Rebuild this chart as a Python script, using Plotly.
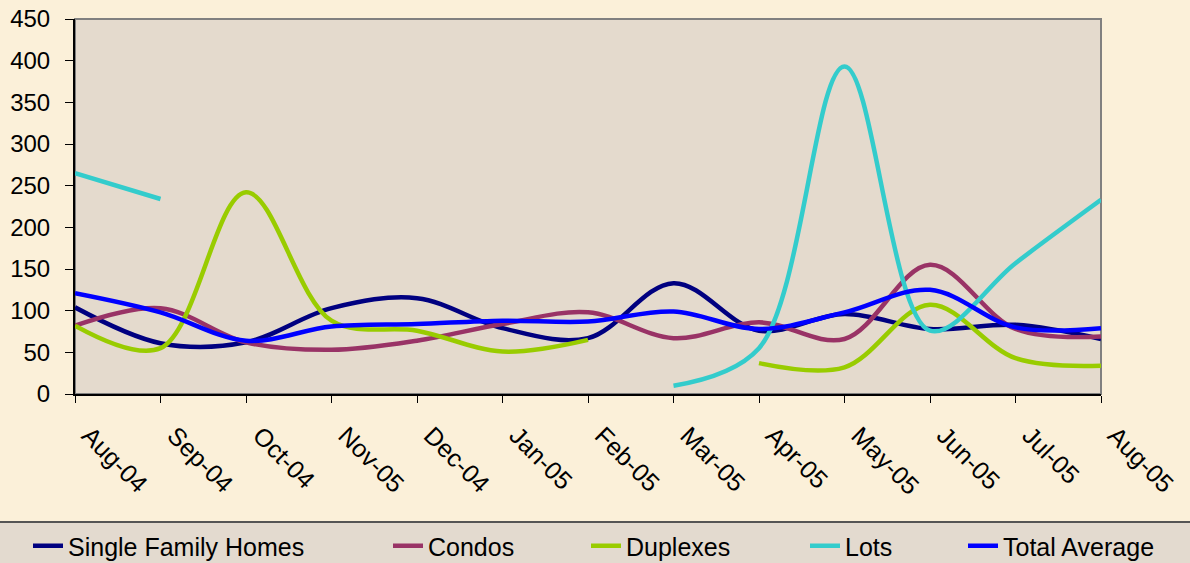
import plotly.graph_objects as go

months = ["Aug-04", "Sep-04", "Oct-04", "Nov-05", "Dec-04", "Jan-05", "Feb-05",
          "Mar-05", "Apr-05", "May-05", "Jun-05", "Jul-05", "Aug-05"]

single_family = [104, 61, 62, 103, 115, 79, 67, 133, 76, 96, 78, 83, 66]
condos = [82, 103, 62, 53, 64, 84, 98, 67, 86, 66, 155, 78, 69]
duplexes = [82, 55, 242, 88, 76, 51, 65, None, 37, 32, 107, 43, 34]
lots = [265, 234, None, None, None, None, None, 10, 55, 393, 76, 157, 233]
total_avg = [121, 98, 64, 81, 84, 88, 87, 99, 78, 98, 125, 80, 79]

y_ticks = [0, 50, 100, 150, 200, 250, 300, 350, 400, 450]

series = [
    ("Single Family Homes", single_family, "#000080"),
    ("Condos", condos, "#993366"),
    ("Duplexes", duplexes, "#99CC00"),
    ("Lots", lots, "#33CCCC"),
    ("Total Average", total_avg, "#0000FF"),
]
# pixel x where each legend entry's text begins in the reference
legend_text_x = [70, 430, 628, 847, 1005]

FONT = "Arial, Liberation Sans, sans-serif"

W, H = 1190, 563
ml, mr, mt, mb = 75, 89, 19, 169
pw = W - ml - mr
ph = H - mt - mb
n = len(months)


def px_to_paper_x(px):
    return (px - ml) / pw


def px_to_paper_y(py):
    return (H - mb - py) / ph


fig = go.Figure()
layout_legends = {}
for i, (name, vals, col) in enumerate(series):
    lid = "legend" if i == 0 else f"legend{i + 1}"
    fig.add_trace(go.Scatter(
        x=months, y=vals, name=name, mode="lines",
        line=dict(color=col, width=4.5, shape="spline", smoothing=1.0),
        connectgaps=False, legend=lid,
    ))
    layout_legends[lid] = dict(
        orientation="h",
        x=px_to_paper_x(legend_text_x[i] - 42), xanchor="left",
        y=px_to_paper_y(546), yanchor="middle",
        bgcolor="rgba(0,0,0,0)",
        font=dict(family=FONT, size=25, color="#000000"),
    )

# legend band background
fig.add_shape(type="rect", xref="paper", yref="paper",
              x0=px_to_paper_x(-5), x1=px_to_paper_x(W + 5),
              y0=px_to_paper_y(H + 5), y1=px_to_paper_y(522),
              fillcolor="#E3DACF", line=dict(width=0), layer="below")
fig.add_shape(type="line", xref="paper", yref="paper",
              x0=px_to_paper_x(-5), x1=px_to_paper_x(W + 5),
              y0=px_to_paper_y(522), y1=px_to_paper_y(522),
              line=dict(color="#555555", width=2), layer="below")
# plot border (gray top/right)
fig.add_shape(type="rect", xref="paper", yref="paper",
              x0=0, x1=1, y0=0, y1=1,
              line=dict(color="#808080", width=2), layer="below")

fig.update_layout(
    width=W, height=H,
    margin=dict(l=ml, r=mr, t=mt, b=mb, autoexpand=False),
    paper_bgcolor="#FBF0D9",
    plot_bgcolor="#E4DACD",
    font=dict(family=FONT, size=24, color="#000000"),
    showlegend=True,
    xaxis=dict(
        type="category",
        range=[0, n - 1],
        showgrid=False,
        zeroline=False,
        showline=True, linecolor="#000000", linewidth=2,
        ticks="outside", ticklen=7, tickwidth=1, tickcolor="#000000",
        tickangle=45,
        tickfont=dict(family=FONT, size=25, color="#000000"),
        ticklabelstandoff=8,
        ticklabelshift=14,
        automargin=False,
        fixedrange=True,
    ),
    yaxis=dict(
        range=[0, 450],
        tickvals=y_ticks,
        showgrid=False,
        zeroline=False,
        showline=True, linecolor="#000000", linewidth=2,
        ticks="outside", ticklen=8, tickwidth=1, tickcolor="#000000",
        tickfont=dict(family=FONT, size=24, color="#000000"),
        ticklabelstandoff=10,
        automargin=False,
        fixedrange=True,
    ),
    **layout_legends,
)

fig.write_html(
    "out.html",
    config={"displayModeBar": False},
    post_script="document.body.style.margin='0';document.body.style.padding='0';"
                "document.documentElement.style.background='#FBF0D9';",
)
